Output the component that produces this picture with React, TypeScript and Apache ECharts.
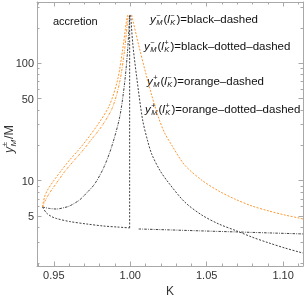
import React, { useEffect, useRef } from "react";
import * as echarts from "echarts";

// ---- data (K, y/M) ----
const blackDashedLowerK = [0.9426, 0.9452, 0.9485, 0.9518, 0.9603, 0.9714, 0.9826, 0.9917, 0.9996];
const blackDashedLowerV = [5.97, 5.31, 4.95, 4.76, 4.49, 4.28, 4.11, 4.03, 3.96];
const blackDashedVertK = [0.9996, 0.9996];
const blackDashedVertV = [3.96, 258];
const blackDashedRightK = [1.0003, 1.0016, 1.0042, 1.0081, 1.0114, 1.014, 1.0193, 1.0252, 1.0356, 1.0468, 1.0579, 1.0697, 1.0796, 1.0907, 1.1012, 1.1104, 1.113];
const blackDashedRightV = [258, 149, 76.4, 32.9, 21.8, 16.9, 12.3, 9.56, 6.59, 5.1, 4.28, 3.73, 3.31, 2.95, 2.67, 2.47, 2.42];
const blackDotDashUpperK = [0.9426, 0.9472, 0.9518, 0.957, 0.9603, 0.9668, 0.9714, 0.9767, 0.9826, 0.9878, 0.9931, 0.9963, 0.9983, 0.9996];
const blackDotDashUpperV = [5.97, 5.8, 5.74, 5.91, 6.09, 6.85, 7.85, 9.37, 12.9, 19.4, 34.9, 67.9, 129.8, 258];
const blackDotDashFlatK = [1.0055, 1.0258, 1.0455, 1.0697, 1.0913, 1.113];
const blackDotDashFlatV = [3.88, 3.81, 3.74, 3.66, 3.59, 3.52];
const orangeDashedLeftK = [0.9426, 0.9439, 0.9459, 0.9498, 0.9551, 0.9603, 0.9662, 0.9714, 0.9799, 0.9865, 0.9917, 0.995, 0.9976, 0.9983];
const orangeDashedLeftV = [5.97, 7.26, 8.33, 9.94, 12.3, 15.0, 18.3, 22.2, 31.6, 44.2, 72.1, 129.8, 234, 258];
const orangeDashedRightK = [1.0009, 1.0055, 1.0101, 1.014, 1.0186, 1.0225, 1.0271, 1.0356, 1.0468, 1.0579, 1.0684, 1.0796, 1.0907, 1.1012, 1.1104, 1.113];
const orangeDashedRightV = [258, 143, 82.7, 53.7, 34.2, 25.5, 20.1, 13.6, 10.1, 8.17, 6.98, 6.09, 5.52, 5.1, 4.81, 4.72];
const orangeDotDashLeftK = [0.9426, 0.9446, 0.9472, 0.9518, 0.957, 0.9623, 0.9682, 0.9734, 0.9819, 0.9885, 0.9931, 0.9963, 0.9983, 0.999];
const orangeDotDashLeftV = [5.97, 6.85, 7.85, 9.56, 11.9, 14.4, 17.6, 21.4, 29.8, 42.4, 69.3, 129.8, 234, 258];

const xMajorTicks = [0.95, 1.0, 1.05, 1.1];
const xMinorTicks = [0.94, 0.96, 0.97, 0.98, 0.99, 1.01, 1.02, 1.03, 1.04, 1.06, 1.07, 1.08, 1.09, 1.11];
const yMajorTicks = [5, 10, 50, 100];
const yMinorTicks = [2, 3, 4, 6, 7, 8, 9, 20, 30, 40, 60, 70, 80, 90, 200, 300];

const legendLines = [
  { sup1: "−", sup2: "−", rest: ")=black–dashed" },
  { sup1: "−", sup2: "+", rest: ")=black–dotted–dashed" },
  { sup1: "+", sup2: "−", rest: ")=orange–dashed" },
  { sup1: "+", sup2: "+", rest: ")=orange–dotted–dashed" },
];

const X_MIN = 0.939;
const X_MAX = 1.113;
const Y_MIN = 1.877;
const Y_MAX = 332.7;

const FF = "'Liberation Sans', Arial, sans-serif";
const BLACK = "#2a2a2a";
const ORANGE = "#ff8c1a";
const FRAME = "#a8a8a8";
const DASH = [2, 1.5];
const DOTDASH = [2.5, 1.2, 0.8, 1.2];

const toData = (ks: number[], vs: number[]) => ks.map((k, i) => [k, Math.log10(vs[i])]);

function legendLine(x0: number, yc: number, s1: string, s2: string, rest: string) {
  const t = (x: number, y: number, text: string, font: string) => ({
    type: "text",
    x,
    y,
    silent: true,
    style: { text, font, fill: "#111", textVerticalAlign: "middle", textAlign: "left" },
  });
  return {
    type: "group",
    x: x0,
    y: yc,
    children: [
      t(0, 0, "y", `italic 11.5px ${FF}`),
      t(6.2, -4, s1, `7.5px ${FF}`),
      t(6.2, 3.5, "M", `italic 7.5px ${FF}`),
      t(13.4, 0, "(", `11.5px ${FF}`),
      t(17.2, 0, "l", `italic 11.5px ${FF}`),
      t(20.2, -4, s2, `7.5px ${FF}`),
      t(20.2, 3.5, "K", `italic 7.5px ${FF}`),
      t(26.5, 0, rest, `11.5px ${FF}`),
    ],
  };
}

export default function App() {
  const ref = useRef<HTMLDivElement>(null);
  useEffect(() => {
    if (!ref.current) return;
    const chart = echarts.init(ref.current, undefined, { renderer: "svg" });
    const lg = Math.log10;
    const axisCommon = {
      type: "value",
      splitLine: { show: false },
    };
    const xAxes = [
      {
        ...axisCommon,
        position: "bottom",
        min: X_MIN,
        max: X_MAX,
        axisLine: { show: true, lineStyle: { color: FRAME, width: 1 } },
        axisTick: { show: true, inside: true, length: 4.5, customValues: xMajorTicks, lineStyle: { color: FRAME } },
        axisLabel: {
          show: true,
          customValues: xMajorTicks,
          formatter: (v: number) => v.toFixed(2),
          color: "#333",
          fontSize: 11,
          fontFamily: FF,
          margin: 3,
        },
        name: "K",
        nameLocation: "middle",
        nameGap: 17,
        nameTextStyle: { color: "#333", fontSize: 12, fontFamily: FF },
      },
      {
        ...axisCommon,
        position: "bottom",
        min: X_MIN,
        max: X_MAX,
        axisLine: { show: false },
        axisTick: { show: true, inside: true, length: 2.5, customValues: xMinorTicks, lineStyle: { color: FRAME } },
        axisLabel: { show: false },
      },
      {
        ...axisCommon,
        position: "top",
        min: X_MIN,
        max: X_MAX,
        axisLine: { show: true, lineStyle: { color: FRAME, width: 1 } },
        axisTick: { show: true, inside: true, length: 4.5, customValues: xMajorTicks, lineStyle: { color: FRAME } },
        axisLabel: { show: false },
      },
      {
        ...axisCommon,
        position: "top",
        min: X_MIN,
        max: X_MAX,
        axisLine: { show: false },
        axisTick: { show: true, inside: true, length: 2.5, customValues: xMinorTicks, lineStyle: { color: FRAME } },
        axisLabel: { show: false },
      },
    ];
    const yAxes = [
      {
        ...axisCommon,
        position: "left",
        min: lg(Y_MIN),
        max: lg(Y_MAX),
        axisLine: { show: true, lineStyle: { color: FRAME, width: 1 } },
        axisTick: { show: true, inside: true, length: 4.5, customValues: yMajorTicks.map(lg), lineStyle: { color: FRAME } },
        axisLabel: {
          show: true,
          customValues: yMajorTicks.map(lg),
          formatter: (v: number) => String(Math.round(Math.pow(10, v))),
          color: "#333",
          fontSize: 11,
          fontFamily: FF,
          margin: 3,
        },
      },
      {
        ...axisCommon,
        position: "left",
        min: lg(Y_MIN),
        max: lg(Y_MAX),
        axisLine: { show: false },
        axisTick: { show: true, inside: true, length: 2.5, customValues: yMinorTicks.map(lg), lineStyle: { color: FRAME } },
        axisLabel: { show: false },
      },
      {
        ...axisCommon,
        position: "right",
        min: lg(Y_MIN),
        max: lg(Y_MAX),
        axisLine: { show: true, lineStyle: { color: FRAME, width: 1 } },
        axisTick: { show: true, inside: true, length: 4.5, customValues: yMajorTicks.map(lg), lineStyle: { color: FRAME } },
        axisLabel: { show: false },
      },
      {
        ...axisCommon,
        position: "right",
        min: lg(Y_MIN),
        max: lg(Y_MAX),
        axisLine: { show: false },
        axisTick: { show: true, inside: true, length: 2.5, customValues: yMinorTicks.map(lg), lineStyle: { color: FRAME } },
        axisLabel: { show: false },
      },
    ];
    const line = (name: string, ks: number[], vs: number[], color: string, dash: number[], smooth: number | boolean) => ({
      type: "line",
      name,
      xAxisIndex: 0,
      yAxisIndex: 0,
      data: toData(ks, vs),
      showSymbol: false,
      symbol: "none",
      smooth,
      lineStyle: { color, width: 0.9, type: dash },
      silent: true,
    });
    chart.setOption({
      animation: false,
      grid: { left: 37, right: 2, top: 2, bottom: 32, containLabel: false, outerBoundsMode: "none" },
      xAxis: xAxes,
      yAxis: yAxes,
      series: [
        line("bdl", blackDashedLowerK, blackDashedLowerV, BLACK, DASH, 0.3),
        line("bdv", blackDashedVertK, blackDashedVertV, BLACK, DASH, false),
        line("bdr", blackDashedRightK, blackDashedRightV, BLACK, DASH, 0.3),
        line("bddu", blackDotDashUpperK, blackDotDashUpperV, BLACK, DOTDASH, 0.3),
        line("bddf", blackDotDashFlatK, blackDotDashFlatV, BLACK, DOTDASH, 0.3),
        line("odl", orangeDashedLeftK, orangeDashedLeftV, ORANGE, DASH, 0.3),
        line("odr", orangeDashedRightK, orangeDashedRightV, ORANGE, DASH, 0.3),
        line("oddl", orangeDotDashLeftK, orangeDotDashLeftV, ORANGE, DOTDASH, 0.3),
      ],
      graphic: [
        {
          type: "text",
          x: 53,
          y: 21,
          silent: true,
          style: { text: "accretion", font: `11px ${FF}`, fill: "#111", textVerticalAlign: "middle" },
        },
        legendLine(150, 19, legendLines[0].sup1, legendLines[0].sup2, legendLines[0].rest),
        legendLine(144, 46, legendLines[1].sup1, legendLines[1].sup2, legendLines[1].rest),
        legendLine(147, 81, legendLines[2].sup1, legendLines[2].sup2, legendLines[2].rest),
        legendLine(145, 109, legendLines[3].sup1, legendLines[3].sup2, legendLines[3].rest),
        {
          type: "group",
          x: 9,
          y: 153,
          rotation: Math.PI / 2,
          children: [
            { type: "text", x: 0, y: 0, style: { text: "y", font: `italic 12.5px ${FF}`, fill: "#333", textVerticalAlign: "middle" } },
            { type: "text", x: 6.6, y: -4.5, style: { text: "±", font: `8px ${FF}`, fill: "#333", textVerticalAlign: "middle" } },
            { type: "text", x: 6.6, y: 4, style: { text: "M", font: `italic 8px ${FF}`, fill: "#333", textVerticalAlign: "middle" } },
            { type: "text", x: 14, y: 0, style: { text: "/M", font: `12.5px ${FF}`, fill: "#333", textVerticalAlign: "middle" } },
          ],
        },
      ],
    });
    return () => chart.dispose();
  }, []);
  return <div ref={ref} style={{ position: "fixed", left: 0, top: 0, width: 305, height: 298 }} />;
}
